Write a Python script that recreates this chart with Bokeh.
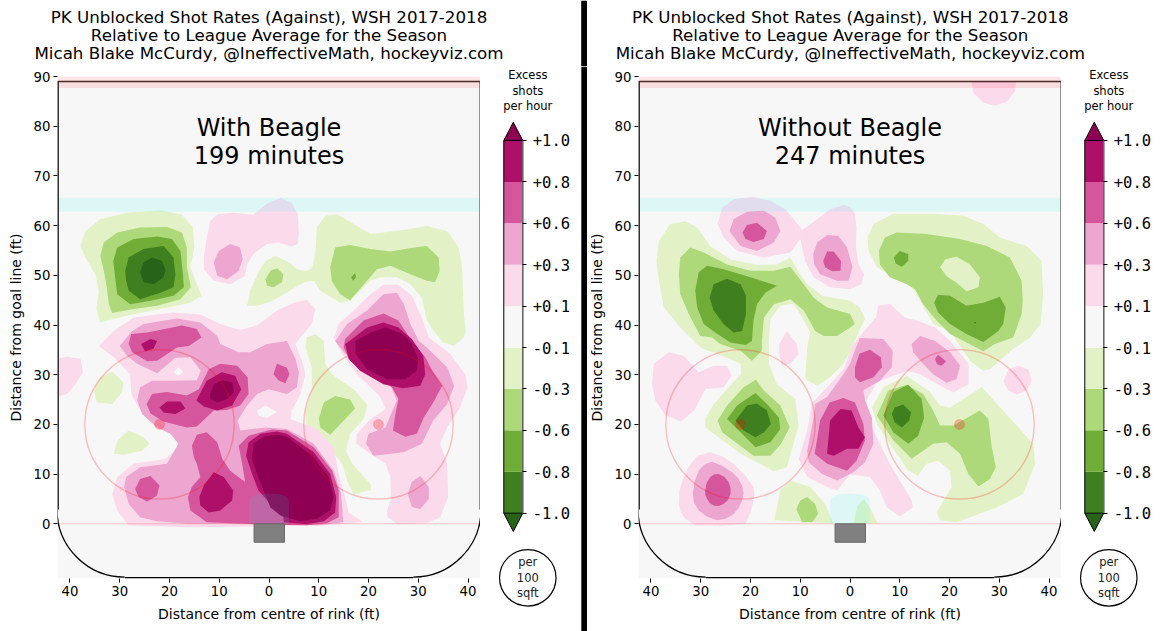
from math import pi
from bokeh.core.properties import value
from bokeh.embed import file_html
from bokeh.layouts import column, row
from bokeh.models import FixedTicker, LinearAxis, Range1d
from bokeh.plotting import figure
from bokeh.resources import INLINE

# ---------------------------------------------------------------- data
panel_captions = ["With Beagle\n199 minutes", "Without Beagle\n247 minutes"]
title_text = ("PK Unblocked Shot Rates (Against), WSH 2017-2018\n"
              "Relative to League Average for the Season\n"
              "Micah Blake McCurdy, @IneffectiveMath, hockeyviz.com")
bar_levels = [-1.0, -0.8, -0.6, -0.3, -0.1, 0.1, 0.3, 0.6, 0.8, 1.0]
bar_labels = ["-1.0", "-0.8", "-0.6", "-0.3", "-0.1", "+0.1", "+0.3", "+0.6", "+0.8", "+1.0"]
rink_x_ticks = [-40, -30, -20, -10, 0, 10, 20, 30, 40]
rink_x_labels = ["40", "30", "20", "10", "0", "10", "20", "30", "40"]
rink_y_ticks = [0, 10, 20, 30, 40, 50, 60, 70, 80, 90]

# contour outlines (x ft, y ft), one list per band
with_n01 = [
 [(-37.9,55.9),(-36.9,58.9),(-33.9,61.3),(-28.5,62.6),(-21.8,63.1),(-17.5,62.2),(-15.3,59.6),(-15,55.6),(-15.8,51.6),(-14.5,48.2),(-13.5,45.9),(-15.8,44.5),(-21.8,43.2),(-28.5,41.9),(-33.9,40.5),(-34.7,43.2),(-34.2,46.9),(-34.9,50.2),(-36.9,53.6)],
 [(-4.4,43.9),(-3.8,46.9),(-2.1,50.6),(-0.7,52.9),(1.3,53.9),(4.3,52.5),(5.6,51.2),(7.3,50.8),(8.6,51.4),(9.3,54.3),(9.6,59.6),(11.3,62),(13.7,62.3),(17,60.3),(20.4,58.3),(27,59.1),(31.7,59.9),(35.8,58.9),(38.1,55.6),(38.8,51.6),(39,46.2),(39.2,41.5),(39.6,38.8),(39.1,37.5),(37.1,35.8),(35,36.5),(33.1,38.8),(31.7,40.9),(30.7,45.5),(28.4,48.2),(25.7,49.6),(22.4,49.6),(20.4,48.9),(16.3,44.9),(14.3,44.5),(10.3,46.9),(9,48.9),(7,48.6),(3,46.2),(0.3,44.7),(-2.4,43.9)],
 [(7.6,37.5),(9.3,38.2),(11,36.8),(11.3,32.2),(12.6,30.1),(17.3,26.8),(19.8,23.8),(19,21.1),(16.3,18.1),(15.5,14.7),(16.7,12.1),(20.4,8),(20.5,6.8),(17,5.9),(15.7,8.7),(14.7,12.1),(11,16.7),(7.6,19.8),(7.3,22.8),(8.6,27.1),(8.6,31.5),(7.3,35.5)],
 [(-35.2,26.8),(-33.9,29.5),(-31.5,30.6),(-29.3,28.5),(-29.5,26.5),(-31.5,24.1),(-34.6,24.4)],
 [(-31.2,14.1),(-30.5,16.7),(-28.2,18.8),(-25.2,17.4),(-24,16.1),(-25.5,14.7),(-29.2,13.9)],
]
with_n03 = [
 [(-33.9,53.9),(-33.2,56.6),(-30.5,58.6),(-25.9,59.6),(-20.5,59.7),(-17.5,58.6),(-16.5,55.6),(-16.5,51.6),(-15.7,47.6),(-17.8,45.2),(-22.5,43.9),(-27.2,43.2),(-31.5,42.4),(-32.2,44.2),(-32.6,47.6),(-33.2,50.9)],
 [(-0.7,49.2),(0.3,50.9),(1.6,51.4),(2.9,50.2),(2.6,48.6),(0.9,47.6),(-0.4,47.9)],
 [(12.3,51.6),(13.3,55.6),(16.3,56.1),(20.4,55.3),(24.4,54.8),(28.4,55.5),(31.7,55.9),(34.1,53.6),(34.3,50.9),(33.4,48.6),(31.7,48.9),(28.4,50.2),(24.4,51.9),(21.7,51.2),(19.7,48.9),(16.3,45),(14.3,46.2),(12.6,48.9)],
 [(10,21.1),(11,24.4),(13.3,25.7),(16.3,25),(17.3,23.2),(15.3,21.1),(12.3,17.9),(10.3,19.4)],
]
with_n06 = [
 [(-31.3,52.9),(-30.5,55.6),(-27.2,57.3),(-22.5,57.8),(-19.5,57.3),(-17.8,54.9),(-17.3,50.2),(-17.1,47.6),(-19.2,45.9),(-23.8,44.9),(-27.9,44.2),(-30.5,46.2),(-30.9,49.5)],
 [(16.5,49.6),(17.3,50.4),(17.5,49.6),(16.9,48.9)],
]
with_n08 = [
 [(-28.9,50.9),(-28.2,53.6),(-25.2,55.3),(-21.2,55.9),(-19.2,53.6),(-18.8,50.2),(-19.2,47.6),(-21.8,46.5),(-25.9,45.2),(-28.2,46.9),(-28.7,48.9)],
]
with_n10 = [
 [(-25.9,50.6),(-25.2,52.6),(-23.5,53.6),(-21.5,52.9),(-20.8,50.9),(-21.2,49.6),(-23.2,48.2),(-25.2,48.6)],
]
with_p01 = [
 [(-11.8,60.9),(-10.4,62.3),(-7.1,62.6),(-3.1,62.2),(-0.4,64.4),(2.3,65.6),(4.6,64.6),(5.8,62.3),(6,58.3),(5.8,56.3),(4.6,55.8),(1.9,56.6),(-0.4,56.3),(-3.1,54.3),(-4.4,52.2),(-4.8,49.9),(-7.8,48.2),(-11.1,48.9),(-13.1,51.2),(-13.1,53.6),(-12.5,57.6)],
 [(-42.5,33.2),(-40.6,33.6),(-37.9,33.2),(-37.4,30.5),(-38.9,28.1),(-40.6,26.1),(-42.5,25.6)],
 [(-34.2,35.8),(-31.2,38.8),(-27.2,41.5),(-19.2,42.5),(-13.8,42.1),(-9.8,40.2),(-5.8,39),(-2.4,39.9),(1.6,42.9),(5,44.5),(7.6,45.1),(9.3,43.2),(8.6,40.2),(6.3,37.5),(5.3,36.2),(6.6,32.8),(7.3,30.1),(6.3,26.1),(4.6,22.8),(4.3,21.1),(9.6,19.1),(13,15.4),(14,10),(15.3,5.4),(16,2.3),(19,0.3),(10,-0.4),(0,-0.5),(-16.5,-0.7),(-28.2,-0.3),(-30.5,2.7),(-31.5,6),(-30.5,9.4),(-27.2,12.1),(-20.8,13.1),(-18.2,15.4),(-18.5,17.4),(-22.5,21.1),(-25.9,22.8),(-27.7,26.1),(-27.9,30.1),(-31.2,33.5)],
 [(13,37.5),(14,40.2),(17,42.9),(20.4,46.2),(23,48.1),(26,48.1),(28.7,45.9),(30.7,41.5),(32.1,37.5),(36.4,34.2),(39.4,30.1),(39.9,27.5),(38.4,23.4),(35.8,19.4),(34.4,16.1),(35.8,12.1),(36,5.4),(34.4,1.3),(31.7,0.1),(25.7,0),(23.8,1.3),(23.7,2.7),(24.5,4.7),(24.4,9.4),(23.4,12.1),(20.4,14.1),(17.5,16.1),(17.7,18.1),(20.4,21.1),(23.4,23.1),(22.4,25.5),(17.7,30.1),(14.7,34.2)],
]
with_p01_holes = [
 [(-19.2,30.5),(-18.2,31.5),(-17.2,30.5),(-18.2,29.8)],
 [(-2.4,22.8),(-0.7,23.8),(1.6,22.5),(-0.4,21.3),(-2.1,21.8)],
]
with_p03 = [
 [(-11.1,52.6),(-10.1,54.9),(-7.8,56.3),(-5.8,55.6),(-5.3,53.2),(-6.1,50.9),(-8.4,49.2),(-10.4,49.9)],
 [(-30,35.8),(-27.5,38.8),(-25.2,40.2),(-18.5,41.3),(-13.8,40.5),(-10.4,37.8),(-9.8,36.2),(-6.1,34.5),(-3.8,34.5),(-0.4,36.2),(3.6,36.8),(5.3,33.2),(6,30.5),(5.6,27.5),(3.6,26.1),(-0.1,27.1),(-2.4,26.1),(-4.4,23.8),(-6.3,20.8),(-5.8,18.8),(-0.4,19.4),(3.6,19.1),(9,16.1),(13,10.7),(14.5,6),(14.9,0.3),(10,-0.3),(0,0),(-16.5,0),(-22.5,0.5),(-25.9,1.3),(-28.2,4),(-29.1,7.4),(-28.7,9.4),(-25.9,11.4),(-20.5,12.1),(-18.2,16.1),(-19.8,18.1),(-22.5,19.4),(-25.5,22.1),(-26.5,24.8),(-25.9,27.5),(-23.5,28.8),(-19.2,28.8),(-14.5,28.9),(-13.7,30.8),(-15.8,33.5),(-18.8,33.4),(-22.5,30.3),(-26.5,32.2),(-28.5,33.8)],
 [(13.3,36.8),(15.7,40.2),(19.7,42.9),(23,46.2),(25.7,46.5),(27.1,44.2),(28.4,40.2),(30.1,36.8),(31.7,35.5),(35.8,31.5),(37.2,27.8),(35.8,24.1),(33,20.8),(30.7,16.1),(27,14.4),(21,13.7),(19.5,16.1),(20,18.1),(23.4,19.4),(25.7,24.8),(24,28.8),(19.7,32.1),(15.3,34.2)],
 [(27.9,6),(28.7,8.4),(30.4,9.6),(32.1,7.4),(32.1,5),(30.4,3),(28.7,3.4)],
]
with_p06 = [
 [(-28.2,36.2),(-27.7,38.2),(-24.5,38.5),(-17.5,39.9),(-14.5,39.2),(-13.6,37.5),(-16.1,35.8),(-18.5,35.5),(-22.5,32.8),(-24.5,32.7),(-27.5,34.5)],
 [(-24.6,24.1),(-23.5,26.1),(-20.5,26.5),(-16.5,25.8),(-14.1,27.1),(-12.1,31.1),(-9.8,32.2),(-6.4,31.8),(-4.3,29.5),(-4.1,26.1),(-5.8,23.8),(-8.4,22.9),(-11.1,22.8),(-14.5,19.6),(-16.5,19.4),(-21.2,20.6),(-23.8,22.2)],
 [(0.9,30.1),(1.6,32.2),(3.6,31.4),(4.1,30.1),(3.3,28.3),(1.9,28.9)],
 [(-26.9,7),(-25.9,9),(-23.8,9.6),(-22,7.7),(-22.5,5.7),(-24.5,4.5),(-26.2,5.4)],
 [(-15.5,15.7),(-14.5,17.9),(-12.5,18.4),(-10.4,16.4),(-9.4,13.1),(-7.8,10.7),(-4.8,8.4),(-5.4,12.1),(-6.1,15.7),(-4.1,17.7),(0.6,19),(3.6,18.8),(9,15.4),(12.7,10.7),(14,6.7),(14,1.3),(11.6,0.1),(7.6,-0.3),(0,-0.2),(-12.5,0.3),(-15.8,2.7),(-16.3,5.4),(-15.5,7.4),(-13.8,9.4),(-14.5,12.1),(-15.1,13.4)],
 [(15.3,37.2),(19,40.9),(23,42.3),(26,40.9),(28.7,36.8),(31.4,33.5),(33,30.5),(34.8,27.8),(33,24.4),(31.1,21.4),(29.7,18.1),(27.4,17.5),(24.9,18.8),(25.4,22.1),(26,25.1),(24.7,27.5),(20.4,29.8),(16.3,32.8),(15,35.5)],
]
with_p08 = [
 [(-25.7,36.2),(-23.8,37.2),(-22.5,36.8),(-23.2,35.2),(-24.9,34.7)],
 [(-22,23.4),(-20.5,24.6),(-17.8,24.6),(-16.8,23.2),(-18.8,22.1),(-21.2,22.4)],
 [(-14.6,24.8),(-12.5,28.8),(-9.5,30.5),(-6.8,29.8),(-5.6,27.1),(-7.4,23.8),(-10.4,22.8),(-13.1,23.6)],
 [(-14,5.4),(-13.1,7.7),(-11.1,10.4),(-9.1,9.4),(-7.2,6.7),(-7.4,4.7),(-9.8,2.7),(-12.1,2.3),(-13.8,3.7)],
 [(-4.6,13.7),(-4.1,16.4),(-1.7,18.1),(1.6,18.6),(3.6,18.1),(9,14.4),(12.3,10),(13.5,5.4),(13.3,2.3),(11,0.5),(7.6,-0.1),(3,0.3),(2.9,1.3),(0.3,4),(-2.1,6.7),(-3.4,10)],
 [(16.7,37.2),(19.7,39.5),(23,40.5),(26,39.5),(28.7,37.2),(31,33.8),(31.4,30.1),(30.4,27.8),(27,27.3),(23,28.1),(18.3,30.8),(16,33.2),(15.3,36.2)],
]
with_p10 = [
 [(-11.8,26.1),(-11.1,28.1),(-9.4,28.9),(-7.4,28.5),(-7,26.5),(-8.4,25.1),(-10.4,24.4),(-11.8,25.1)],
 [(-3.4,13.1),(-3.1,16.1),(-1.1,17.5),(1.6,17.9),(3.6,17.5),(8.6,13.7),(12,9.4),(13,5.4),(12.3,2.7),(9.6,1),(6.3,0.5),(2.3,1.7),(0.3,3.3),(-1.1,6.7),(-2.4,10)],
 [(17.4,36.8),(20.4,38.5),(23.4,39.5),(26.7,38.2),(28.4,36.8),(30,33.2),(29.7,30.8),(27.4,29.1),(23.7,29.1),(19.7,31.1),(17.4,34.2)],
]

without_n01 = [
 [(-38.9,52.9),(-38.4,56.9),(-36.1,60.3),(-33.1,60.9),(-30.7,59.6),(-28.1,55.9),(-24,53.2),(-18.7,52.1),(-14.7,52.2),(-12,53.6),(-10,50.2),(-8.6,48.2),(-5.6,45.9),(0,44.9),(2,43.5),(3,41.2),(1.7,38.5),(0,34.5),(-1.3,32.2),(-4,29.5),(-6.6,27.8),(-9,29.1),(-8.6,35.5),(-8,38.5),(-9.6,41.5),(-11.3,44.3),(-14,43.9),(-16,41.2),(-16.3,36.8),(-16.3,32.2),(-14.7,28.1),(-11,25.1),(-10.3,19.8),(-12.7,11.4),(-15.3,10.6),(-22,14.1),(-29.1,19.4),(-29.1,21.1),(-27.4,24.1),(-24.4,27.5),(-21.9,30.1),(-22,32.2),(-26.1,34),(-29.7,35.2),(-33.4,38.8),(-34.1,39.5),(-37.4,43.5),(-38.4,48.9)],
 [(3.5,57.6),(4.7,60.3),(8.7,62.4),(16.7,62.4),(22.8,62),(26.8,60.3),(30.1,57.6),(35.5,55.9),(38.5,52.9),(38.8,46.2),(38.3,40.2),(36.2,37.5),(32.8,35.2),(28.1,31.1),(26.8,30.8),(24.1,32.8),(20.1,38.8),(16.7,40.2),(14.1,44.9),(12.4,47.6),(8.7,49.6),(5.4,51.6),(3.7,55)],
 [(4.4,23.4),(6.7,27.5),(11.4,29.8),(16.1,26.5),(18.1,23.8),(20.1,23.4),(26.5,27.5),(36.8,16.1),(37.2,12.1),(34.8,6),(29.5,3.3),(21.4,0.3),(18.1,0.7),(17.4,2.3),(20.4,7.4),(20.1,10.7),(17.7,12.7),(15.4,12.1),(13.7,9.7),(11.7,10.7),(8,16.1),(5.4,20.1)],
 [(-15.2,0.7),(-14,6.7),(-12,8.7),(-8,7.4),(-5,4),(-3.3,0.1)],
 [(0.7,0),(1.5,3.7),(2.8,5),(4.2,3),(5.5,0.1)],
]
without_n03 = [
 [(-34.4,50.2),(-34.1,53.6),(-32.1,55.6),(-29.4,54.6),(-24.7,52.2),(-20,50.9),(-15.3,50.9),(-12,51.7),(-9.3,48.2),(-7.3,45.5),(-4.6,43.5),(0,42.2),(1,40.2),(0,39.5),(-2.6,37.8),(-5.3,37.8),(-7,38.8),(-9.3,42.9),(-12,45.2),(-15.3,44.2),(-17.3,41.5),(-17.7,36.8),(-17.7,34.8),(-19.7,32.8),(-22,34.8),(-26.1,36.2),(-27.7,37.5),(-30.1,37.8),(-32.4,42.2),(-34.1,46.2)],
 [(-26.6,20.8),(-24.7,23.8),(-21.4,27.5),(-18.9,29),(-17.3,26.8),(-14,23.8),(-12.1,19.4),(-14,15.9),(-16,13.7),(-19.4,13.7),(-23.4,16.7),(-25.7,18.4)],
 [(5.8,54.9),(7,57.6),(9.4,58.6),(15.4,58.3),(22.1,57.3),(27.5,55.9),(32.1,53.6),(34.5,48.9),(34.7,44.9),(34.5,42.2),(32.8,37.5),(29.1,36.2),(26.8,34.7),(23.4,36.5),(20.1,38.2),(17.4,40.9),(14.7,44.2),(13.1,47.2),(11.4,48.2),(8,49.6),(6,52.2)],
 [(5.4,21.8),(7.7,26.8),(11.4,28),(14.7,26.1),(16.7,22.8),(18.1,19.8),(20.8,19.8),(26.1,22.8),(27.8,21.1),(28.5,15.4),(29.3,11.4),(28.1,9),(25.8,7.5),(23.8,10),(22.1,14.1),(19.4,16.4),(16.7,16.1),(12.4,13.1),(8.7,16.8)],
 [(-10.8,3),(-10,4.7),(-8.6,5.4),(-7,4),(-6.4,2),(-7.6,0.3),(-9.6,0.3)],
]
without_n03_holes = [
 [(18.1,51.6),(19.1,53.2),(21.4,53.8),(24.1,52.2),(26.1,49.6),(25.8,47.6),(23.4,46.8),(21.4,48.5),(19.4,49.8)],
]
without_n06 = [
 [(-31.1,46.9),(-30.4,50.6),(-28.7,51.9),(-25.4,51.2),(-20,49.6),(-14.7,47.9),(-17,46.5),(-18.7,44.2),(-19.4,40.9),(-19.7,36.8),(-21,36),(-24,36.5),(-27.1,38.5),(-29.4,40.2),(-30.7,43.5)],
 [(-24.7,21.1),(-22.7,23.8),(-19,26.3),(-16.7,24.1),(-14.3,21.4),(-14,19.1),(-16,16.4),(-19,15.4),(-21.7,18.1)],
 [(16.9,44.5),(17.7,46.1),(20.1,45.9),(23.4,43.9),(26.8,44.5),(30.1,45.7),(31.3,43.5),(30.8,40.2),(29.8,38.8),(26.8,36.6),(23.4,38.2),(20.1,40.2),(17.7,42.5)],
 [(8.8,53.6),(10,54.9),(11.7,54.3),(11.7,52.9),(10.4,51.7),(9.2,52.4)],
 [(6.7,21.8),(8.7,26.5),(11.7,28),(14.4,25.1),(14.9,21.4),(13.7,17.7),(11.7,16.1),(8.7,18.4)],
]
without_n08 = [
 [(-28.2,45.5),(-27.4,48.2),(-24.7,49.3),(-22,48.2),(-20.9,45.9),(-20.9,42.2),(-21.7,38.8),(-23.4,38.5),(-25.4,40.2),(-27.4,42.9)],
 [(-23,20.8),(-20.7,23.8),(-18.7,24.2),(-16.7,22.8),(-15.9,20.1),(-17.3,18.4),(-19,17.4),(-21.4,18.8)],
 [(8.4,22.1),(9,23.4),(10.7,24),(12.3,22.4),(11.9,20.8),(10.4,19.4),(9,20.4)],
 [(25,40.6),(25.3,40.6),(25.3,40.3),(25,40.3)],
]
without_p01 = [
 [(24.4,89),(24.8,86.7),(26.8,84.7),(29.1,84.1),(31.5,84.9),(33.2,87.1),(33.4,89)],
 [(-26.6,60.3),(-25.7,63.6),(-23.4,65.3),(-19.7,65.8),(-16,65),(-13,63.3),(-11.3,61.3),(-9.6,59.1),(-6.6,61.3),(-4,63.3),(-1.3,64.2),(0,63.8),(1,62.3),(1.3,59.6),(1.2,55.6),(1.7,52.2),(2.8,50.2),(2.3,48.2),(0,47.2),(-4,47.6),(-7.3,49.6),(-9,52.9),(-10,57.3),(-12,54.6),(-17.3,53.6),(-22.7,54.9),(-25.4,57.6)],
 [(-14.2,36.2),(-12.7,38.8),(-10.7,36.2),(-10.4,34.1),(-12,32.2),(-13.7,31.8),(-14.2,34.1)],
 [(-39.8,28.1),(-39.4,32.2),(-36.4,34.5),(-33.4,33.8),(-30.4,30.5),(-27.4,31.8),(-24.7,31.8),(-23.8,29.8),(-25.4,27.5),(-29.1,27.1),(-31.3,22.8),(-34,20.6),(-37.1,21.8),(-39.1,24.8)],
 [(-34.4,4),(-34.3,6.5),(-33.7,8.7),(-32.4,11.5),(-30.7,13.7),(-28.1,14.4),(-25.7,13.6),(-23.4,12.1),(-21.2,9.9),(-19.4,7.4),(-19.2,6),(-19.4,4.7),(-20,2.3),(-21,0),(-26,-0.4),(-31.1,-0.3),(-33.1,1),(-34,2.3)],
 [(5.7,43.9),(8,44.3),(11,41.5),(13.4,40.9),(17.1,39.5),(20.1,36.8),(23.8,32.2),(23.8,28.1),(20.8,26.4),(18.1,27.8),(14.1,30.1),(11.4,30.8),(5.4,28.5),(3.3,24.8),(4.4,19.4),(8,12.1),(12.4,4.7),(12.6,3.3),(10,1.5),(7.4,3.3),(6,6.7),(4,9.4),(0,9.9),(-2.6,6.7),(-4.6,7.4),(-8.6,9.4),(-10.3,13.1),(-8.6,18.8),(-7.6,24.4),(-4.6,27.5),(-1.3,31.1),(0.5,36),(3.5,39.5),(5.2,41.5)],
 [(30.8,28.8),(31.8,31),(33.8,31.8),(35.8,31.1),(36.5,28.8),(35.5,26.8),(33.5,26),(31.8,26.8)],
]
without_p03 = [
 [(-24.2,58.9),(-23.4,61.3),(-20.7,62.8),(-17.3,63),(-15,61.6),(-14,58.9),(-15.3,56.6),(-18.7,54.9),(-22,55.9)],
 [(-7.4,54.3),(-6.6,56.6),(-4.6,58.1),(-2.3,57.9),(-0.6,55.6),(0.5,51.6),(-0.3,48.9),(-2.6,48.9),(-6,50.2),(-7.2,52.2)],
 [(-31.6,6),(-31.2,8.6),(-30.4,10.7),(-29.2,12),(-27.7,12.5),(-25.7,11.7),(-23.7,10.4),(-22.5,9.2),(-21.7,7.7),(-21.4,6.2),(-21.7,4.7),(-22.4,3.2),(-23.4,2),(-25,1),(-26.7,0.7),(-28.7,1.4),(-30.4,2.7),(-31.3,4.2)],
 [(2,37.4),(6.7,37.2),(8.6,34.8),(8.4,31.5),(6,28.8),(2.7,26.9),(3,24.8),(4.4,21.4),(4.7,16.1),(3,12.4),(0.7,10.4),(-2.6,8.7),(-5.6,10),(-8.3,12.4),(-8.6,14.7),(-7.3,21.4),(-7,24.1),(-4.6,25.5),(-1.3,30.1),(0,32.2),(1.2,35.5)],
 [(12.4,36.2),(14.1,37.8),(17.1,36.8),(20.1,34.5),(22.1,31.8),(21.4,29.1),(19.4,28.4),(16.7,30.1),(14.4,32.5),(12.7,34.5)],
]
without_p06 = [
 [(-21.6,58.6),(-20.7,60.1),(-18.7,60.6),(-16.7,58.9),(-17.3,57.3),(-19.4,56.7),(-21,57.3)],
 [(-5.4,52.9),(-4.6,54.8),(-3.3,54.8),(-1.8,52.9),(-1.9,50.9),(-3.6,50.8),(-5,51.6)],
 [(-29.1,6.7),(-28.8,8.2),(-28.1,9.4),(-27.3,9.9),(-26.4,10),(-25.2,9.4),(-24.4,8.4),(-24,7.2),(-24,6),(-24.5,4.8),(-25.4,4),(-26.4,3.6),(-27.4,3.7),(-28.2,4.2),(-28.7,5),(-29.1,5.8)],
 [(1,31.5),(1.9,34.2),(4,35),(6.2,33.5),(6.4,31.5),(4.7,29.5),(2,28.5),(1,29.5)],
 [(-7.1,14.1),(-6,20.8),(-4.1,24.4),(-1.3,25.3),(1,24.4),(2.7,20.1),(3,16.7),(1.3,12.7),(-0.6,10.7),(-4.6,12.1)],
 [(17.1,33.2),(17.7,34),(19.3,32.7),(18.4,31.8),(17.5,32.1)],
]
without_p08 = [
 [(-4.6,14.1),(-4,20.8),(-1.9,23.1),(0.3,22.8),(1.7,19.4),(3,17.4),(1.7,15.1),(-0.6,15.1),(-3.3,13.7)],
]

# ---------------------------------------------------------------- style
FONT = "DejaVu Sans"
MONO = "DejaVu Sans Mono"
band_colors = ["#276419", "#3f7f1f", "#6fad36", "#add97a", "#e2f2c6", "#f7f7f7",
               "#fbdaec", "#eca6cf", "#d5569c", "#ad0f69", "#8e0152"]
N10, N08, N06, N03, N01, ZERO, P01, P03, P06, P08, P10 = band_colors
HW = 42.5
TITLE_H = 66
FIG_H = 631
BAR_TOP = 10.787
BAR_BOTTOM = -2.857


def add_band(p, polygons, color):
    if polygons:
        p.patches([[v[0] for v in poly] for poly in polygons],
                  [[v[1] for v in poly] for poly in polygons],
                  fill_color=color, line_color=None)


def title_strip(width, center, divider):
    p = figure(frame_width=width, frame_height=TITLE_H, output_backend="svg", toolbar_location=None,
               x_range=Range1d(-center, width - center), y_range=Range1d(0, TITLE_H),
               min_border=0, outline_line_color=None, background_fill_color="white",
               border_fill_color="white", x_axis_type=None, y_axis_type=None, frame_align=False)
    p.grid.visible = False
    p.text(x=[0], y=[TITLE_H - 34], text=[title_text], text_align="center", text_baseline="middle",
           text_font=value(FONT), text_font_size="16.7px", text_color="black", text_line_height=0.9)
    if divider:
        p.quad(left=580.7 - center, right=width - center, bottom=0, top=TITLE_H, fill_color="black", line_color=None)
    return p


def rink(bands, caption, left_border, margin=(0, 0, 0, 0)):
    p = figure(frame_width=423, frame_height=502, output_backend="svg", toolbar_location=None,
               x_range=Range1d(-HW, HW), y_range=Range1d(-11, 90), frame_align=False, margin=margin,
               min_border_left=left_border, min_border_right=0, min_border_top=76 - TITLE_H,
               min_border_bottom=FIG_H - 578, outline_line_color=None,
               background_fill_color="white", border_fill_alpha=0)
    p.grid.visible = False
    for ax in (p.xaxis[0], p.yaxis[0]):
        ax.axis_line_color = None
        ax.major_tick_in = 0
        ax.major_tick_out = 4
        ax.minor_tick_line_color = None
        ax.major_tick_line_color = "black"
        ax.major_label_text_font = FONT
        ax.major_label_text_font_size = "13.3px"
        ax.major_label_text_color = "black"
        ax.axis_label_text_font = FONT
        ax.axis_label_text_font_size = "14px"
        ax.axis_label_text_font_style = "normal"
        ax.axis_label_text_color = "black"
        ax.major_label_standoff = 3
        ax.axis_label_standoff = 7
    p.xaxis[0].ticker = FixedTicker(ticks=rink_x_ticks)
    p.xaxis[0].major_label_overrides = dict(zip(rink_x_ticks, rink_x_labels))
    p.xaxis[0].axis_label = "Distance from centre of rink (ft)"
    p.yaxis[0].ticker = FixedTicker(ticks=rink_y_ticks)
    p.yaxis[0].axis_label = "Distance from goal line (ft)"

    p.quad(left=-HW, right=HW, bottom=-11, top=89, fill_color=ZERO, line_color=None)
    for polygons, color in bands:
        add_band(p, polygons, color)

    p.quad(left=-HW, right=HW, bottom=87.7, top=90, fill_color="red", fill_alpha=0.1, line_color=None)
    p.quad(left=-HW, right=HW, bottom=62.8, top=65.6, fill_color="cyan", fill_alpha=0.1, line_color=None)
    p.segment(x0=-HW, x1=HW, y0=0, y1=0, line_color="red", line_alpha=0.2, line_width=1)
    p.circle(x=[-22, 22], y=[20, 20], radius=15, fill_color=None, line_color="red", line_alpha=0.22, line_width=1.5)
    p.circle(x=[-22, 22], y=[20, 20], radius=1, fill_color="red", fill_alpha=0.25, line_color="red", line_alpha=0.15)
    p.patch(x=[-4, -4, -3.6, -2.5, 0, 2.5, 3.6, 4, 4], y=[0, 4.6, 5.4, 5.9, 6.1, 5.9, 5.4, 4.6, 0],
            fill_color="cyan", fill_alpha=0.1, line_color=None)
    p.quad(left=-3, right=3.1, bottom=-3.7, top=0, fill_color="#808080", line_color="#666666", line_width=1)

    p.segment(x0=-HW, x1=-HW, y0=2.9, y1=89, line_color="#333333", line_width=3)
    p.segment(x0=HW, x1=HW, y0=2.9, y1=89, line_color="#333333", line_width=2)
    p.segment(x0=-HW, x1=HW, y0=89, y1=89, line_color="#4a2a2a", line_width=1.6)
    p.segment(x0=-29, x1=29, y0=-10.85, y1=-10.85, line_color="black", line_width=1.3)
    p.arc(x=-29, y=2.9, radius=13.6, start_angle=pi, end_angle=1.5 * pi, line_color="black", line_width=1.3)
    p.arc(x=29, y=2.9, radius=13.6, start_angle=1.5 * pi, end_angle=2 * pi, line_color="black", line_width=1.3)

    p.text(x=[0], y=[76.8], text=[caption], text_align="center", text_baseline="middle",
           text_font=value(FONT), text_font_size="24px", text_color="black", text_line_height=1.0)
    return p


def colorbar(width, divider):
    right = -1.226 + width / 19
    p = figure(frame_width=width, frame_height=FIG_H - TITLE_H, output_backend="svg", toolbar_location=None,
               x_range=Range1d(-1.226, right), y_range=Range1d(BAR_BOTTOM, BAR_TOP), frame_align=False,
               min_border=0, outline_line_color=None, background_fill_color="white",
               border_fill_color="white", x_axis_type=None, y_axis_type=None)
    p.grid.visible = False
    n = len(bar_levels)
    idx = list(range(n))
    p.quad(left=0, right=1, bottom=idx[:-1], top=idx[1:], fill_color=band_colors[1:-1], line_color=None)
    p.patch(x=[0, 0.5, 1], y=[n - 1, n - 1 + 0.44, n - 1], fill_color=P10, line_color="black", line_width=1)
    p.patch(x=[0, 0.5, 1], y=[0, -0.44, 0], fill_color=N10, line_color="black", line_width=1)
    p.segment(x0=0, x1=0, y0=0, y1=n - 1, line_color="black", line_width=1)
    p.segment(x0=1, x1=1, y0=0, y1=n - 1, line_color="#666666", line_width=1.6)
    ax = LinearAxis(fixed_location=1, ticker=FixedTicker(ticks=idx),
                    major_label_overrides=dict(zip(idx, bar_labels)))
    ax.axis_line_color = None
    ax.major_tick_in = 0
    ax.major_tick_out = 4
    ax.minor_tick_line_color = None
    ax.major_tick_line_color = "black"
    ax.major_label_standoff = 6
    ax.major_label_text_font = MONO
    ax.major_label_text_font_size = "15.5px"
    ax.major_label_text_color = "black"
    p.add_layout(ax, "right")
    p.text(x=[1.263], y=[10.2], text=["Excess\nshots\nper hour"], text_align="center", text_baseline="middle",
           text_font=value(FONT), text_font_size="11.5px", text_color="black", text_line_height=1.12)
    p.scatter(x=[1.263], y=[-1.56], marker="circle", size=56.5, fill_color="white", line_color="black", line_width=1.2)
    p.text(x=[1.263], y=[-1.56], text=["per\n100\nsqft"], text_align="center", text_baseline="middle",
           text_font=value(FONT), text_font_size="11.5px", text_color="#222222", text_line_height=1.12)
    if divider:
        p.quad(left=4.08, right=right, bottom=BAR_BOTTOM, top=BAR_TOP, fill_color="black", line_color=None)
    return p


with_bands = [(with_n01, N01), (with_n03, N03), (with_n06, N06), (with_n08, N08), (with_n10, N10),
              (with_p01, P01), (with_p01_holes, ZERO), (with_p03, P03), (with_p06, P06), (with_p08, P08), (with_p10, P10)]
without_bands = [(without_n01, N01), (without_n03, N03), (without_n03_holes, N01), (without_n06, N06), (without_n08, N08),
                 (without_p01, P01), (without_p03, P03), (without_p06, P06), (without_p08, P08)]

layout = column(
    row(title_strip(587, 268.5, True), title_strip(574, 849.8 - 587, False), spacing=0),
    row(rink(with_bands, panel_captions[0], 57), colorbar(107, True),
        rink(without_bands, panel_captions[1], 54, margin=(0, 0, 0, -3)), colorbar(100, False), spacing=0),
    spacing=0)
open("out.html", "w").write(file_html(layout, INLINE))
